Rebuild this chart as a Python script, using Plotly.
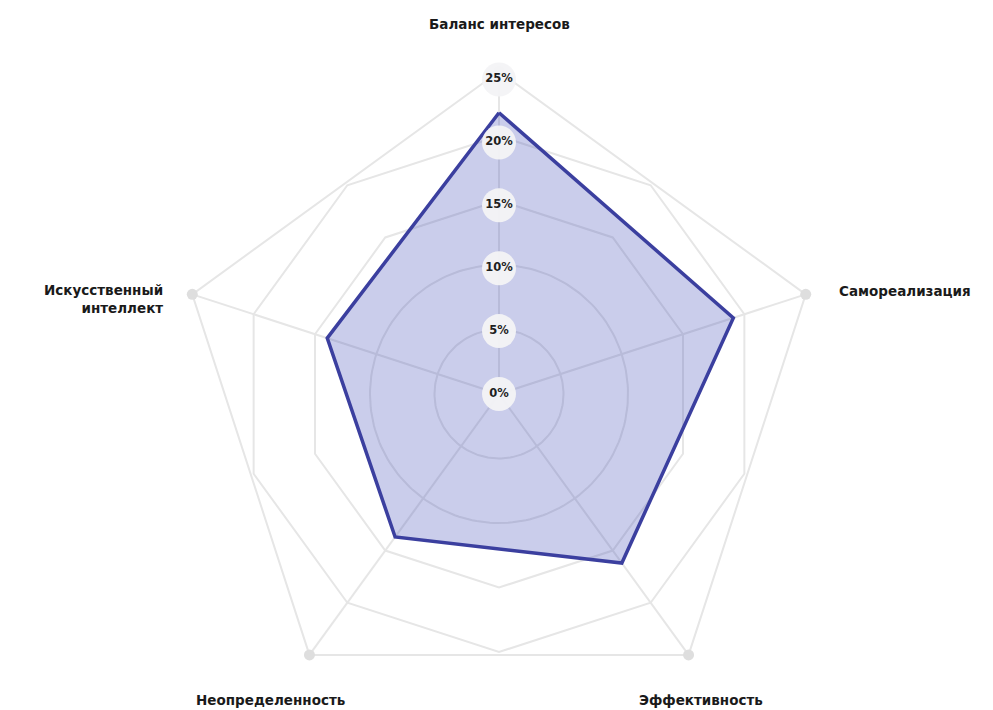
import numpy as np
import plotly.graph_objects as go

# ---- data ----
categories = ["Баланс интересов", "Самореализация", "Эффективность",
              "Неопределенность", "Искусственный<br>интеллект"]
values = [21.8, 19.1, 16.2, 13.7, 14.0]          # percent
tick_values = [0, 5, 10, 15, 20, 25]
tick_labels = ["0%", "5%", "10%", "15%", "20%", "25%"]
r_max = 25

# ---- geometry helpers (polar -> cartesian) ----
W, H = 993, 710
unit = 12.9            # px per percent
cx, cy = 491, 386      # centre of the radar in figure px (page adds an 8px body margin)
n = len(categories)
axis_ang = np.deg2rad(np.arange(n) * 360.0 / n)   # clockwise from north


def pxy(r, a):
    return r * np.sin(a), r * np.cos(a)


GRID = "#e6e6e6"
fig = go.Figure()


def add_line(xs, ys, color=GRID, width=2):
    fig.add_trace(go.Scatter(x=xs, y=ys, mode="lines", hoverinfo="skip",
                             line=dict(color=color, width=width), showlegend=False))


# grid: circles for the two inner levels, decagons, outer pentagon
for t in tick_values[1:]:
    if t <= 10:
        a = np.linspace(0, 2 * np.pi, 181)
    elif t < r_max:
        a = np.deg2rad(np.arange(0, 361, 36))
    else:
        a = np.append(axis_ang, axis_ang[0])
    x, y = pxy(t, a)
    add_line(x, y)

# spokes
sx, sy = [], []
for a in axis_ang:
    x, y = pxy(np.array([0, r_max]), a)
    sx += list(x) + [None]
    sy += list(y) + [None]
add_line(sx, sy)

# outer dots
dx, dy = pxy(np.full(n, r_max), axis_ang)
fig.add_trace(go.Scatter(x=dx, y=dy, mode="markers", hoverinfo="skip", showlegend=False,
                         marker=dict(size=11, color="#dedede")))

# data polygon
vx, vy = pxy(np.array(values + values[:1]), np.append(axis_ang, axis_ang[0]))
fig.add_trace(go.Scatter(x=vx, y=vy, mode="lines", fill="toself", showlegend=False,
                         fillcolor="rgba(59,72,180,0.27)",
                         line=dict(color="#3b3f9f", width=3.5)))

# radial tick labels with round backgrounds
tx = [0] * len(tick_values)
ty = [t * 0.975 for t in tick_values]
fig.add_trace(go.Scatter(x=tx, y=ty, mode="markers+text", hoverinfo="skip", showlegend=False,
                         text=["<b>%s</b>" % s for s in tick_labels],
                         textposition="middle center",
                         textfont=dict(family="DejaVu Sans", size=11.5, color="#1f1f1f"),
                         marker=dict(size=34, color="rgba(243,243,245,0.95)")))

# category labels
label_style = [
    dict(xanchor="center", xshift=0, yshift=48, align="center"),
    dict(xanchor="left", xshift=31, yshift=3, align="left"),
    dict(xanchor="center", xshift=12, yshift=-45, align="center"),
    dict(xanchor="center", xshift=-39, yshift=-45, align="center"),
    dict(xanchor="right", xshift=-27, yshift=-5, align="right"),
]
for cat, a, st in zip(categories, axis_ang, label_style):
    x, y = pxy(r_max, a)
    fig.add_annotation(x=x, y=y, text="<b>%s</b>" % cat, showarrow=False,
                       yanchor="middle",
                       font=dict(family="DejaVu Sans", size=13.5, color="#1a1a1a"),
                       **st)

fig.update_layout(
    width=W, height=H, margin=dict(l=0, r=0, t=0, b=0),
    paper_bgcolor="white", plot_bgcolor="white",
    xaxis=dict(range=[-cx / unit, (W - cx) / unit], visible=False, fixedrange=True),
    yaxis=dict(range=[-(H - cy) / unit, cy / unit], visible=False, fixedrange=True),
)

fig.write_html("out.html")
